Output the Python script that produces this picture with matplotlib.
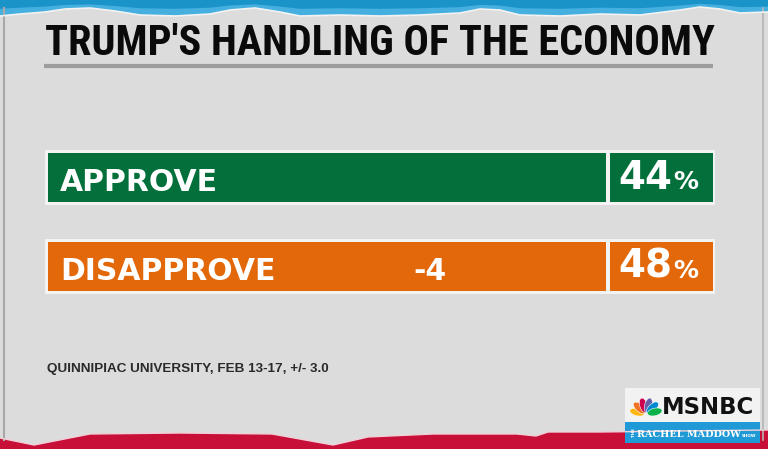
import math
import matplotlib
matplotlib.use("Agg")
import matplotlib.pyplot as plt
from matplotlib import font_manager
from matplotlib.patches import Rectangle, Polygon, Ellipse

# chart content
title = "TRUMP'S HANDLING OF THE ECONOMY"
categories = ["APPROVE", "DISAPPROVE"]
values = [44, 48]
bar_colors = ["#03703c", "#e2680a"]
net_label = "-4"
source = "QUINNIPIAC UNIVERSITY, FEB 13-17, +/- 3.0"

# torn paper edges (decoration)
top_edge = [(0, 16), (20, 14), (45, 12), (65, 9), (90, 8), (115, 11), (140, 15),
            (175, 16), (210, 14), (230, 10), (255, 8), (280, 12), (300, 16),
            (340, 15), (380, 16), (420, 15), (460, 13), (480, 9), (500, 10),
            (520, 15), (560, 16), (600, 14), (640, 15), (680, 10), (700, 7),
            (720, 9), (740, 13), (768, 12)]
bottom_edge = [(0, 438), (34, 445), (90, 434), (180, 433), (272, 434),
               (333, 445), (368, 437), (433, 434), (517, 434), (536, 436),
               (548, 432), (600, 432), (680, 431), (768, 430)]

names = {f.name for f in font_manager.fontManager.ttflist}


def pick(*cands):
    for c in cands:
        if c in names:
            return c
    return "DejaVu Sans"


narrow = pick("Liberation Sans Narrow", "Roboto Condensed", "DejaVu Sans")
arial = pick("Liberation Sans", "DejaVu Sans")

W, H = 768, 449
fig = plt.figure(figsize=(W / 100, H / 100), dpi=100)
fig.patch.set_facecolor("#dcdcdc")
ax = fig.add_axes([0, 0, 1, 1])
ax.set_xlim(0, W)
ax.set_ylim(H, 0)
ax.axis("off")
renderer = fig.canvas.get_renderer()


def fit(t, width_px):
    w = t.get_window_extent(renderer).width
    t.set_fontsize(t.get_fontsize() * width_px / w)


# side borders
ax.plot([4, 4], [8, 440], color="#a8a8a8", lw=1.5)
ax.plot([763, 763], [8, 440], color="#b4b4b4", lw=1.2)

# top blue torn strip
ax.add_patch(Polygon([(0, 0)] + top_edge + [(W, 0)], closed=True,
                     facecolor="#45b0e0", edgecolor="none"))
ax.add_patch(Polygon([(0, 0)] + [(x, y * 0.55) for x, y in top_edge] + [(W, 0)],
                     closed=True, facecolor="#1a93c9", edgecolor="none"))
ax.plot(*zip(*top_edge), color="#f2f2f2", lw=1.2)

# bottom red torn strip
ax.add_patch(Polygon(bottom_edge + [(W, H), (0, H)], closed=True,
                     facecolor="#c70f38", edgecolor="none"))
ax.plot(*zip(*bottom_edge), color="#f0d0d8", lw=1)

# title
t = ax.text(380, 55, title, ha="center", va="baseline", color="#0a0a0a",
            fontsize=32, fontweight="bold", family=narrow)
fit(t, 671)
ax.plot([44, 713], [66, 66], color="#9d9d9d", lw=3, solid_capstyle="butt")

# bars
y_pos = [177, 266]
ax.barh(y_pos, 670, left=45, height=55, color="#f3f3f3")
ax.barh(y_pos, 558, left=48, height=49, color=bar_colors)
ax.barh(y_pos, 103, left=610, height=49, color=bar_colors)

for y, cat, val in zip(y_pos, categories, values):
    ax.text(60, y + 14, cat, ha="left", va="baseline", color="white",
            fontsize=21.5, fontweight="bold", family="DejaVu Sans")
    ax.text(672, y + 12, str(val), ha="right", va="baseline", color="white",
            fontsize=28, fontweight="bold", family="DejaVu Sans")
    ax.text(673, y + 12, "%", ha="left", va="baseline", color="white",
            fontsize=18, fontweight="bold", family="DejaVu Sans")

ax.text(430, y_pos[1] + 14, net_label, ha="center", va="baseline",
        color="white", fontsize=21.5, fontweight="bold", family="DejaVu Sans")

# source
s = ax.text(47, 372, source, ha="left", va="baseline", color="#2a2a2a",
            fontsize=8.5, fontweight="bold", family=arial)
fit(s, 280)

# network logo
ax.add_patch(Rectangle((625, 388), 135, 34, facecolor="#f2f2f2", edgecolor="none"))
ax.add_patch(Rectangle((625, 422), 135, 21, facecolor="#1f9ad6", edgecolor="none"))
feathers = ["#fcb711", "#f37021", "#cc004c", "#6460aa", "#0089d0", "#0db14b"]
for k, c in enumerate(feathers):
    th = 168 - k * 31
    cx = 646 + 9 * math.cos(math.radians(th))
    cy = 414 - 9 * math.sin(math.radians(th))
    ax.add_patch(Ellipse((cx, cy), 15, 7.5, angle=-th, facecolor=c, edgecolor="white", lw=0.4))
m = ax.text(662, 414, "MSNBC", ha="left", va="baseline", color="#111111",
            fontsize=14, fontweight="bold", family="DejaVu Sans")
fit(m, 92)
ax.text(632, 436, "THE", ha="left", va="baseline", color="white", fontsize=3,
        fontweight="bold", rotation=90)
r = ax.text(637, 437, "RACHEL MADDOW", ha="left", va="baseline", color="white",
            fontsize=8, fontweight="bold", family="DejaVu Serif")
fit(r, 104)
ax.text(742, 437, "SHOW", ha="left", va="baseline", color="white", fontsize=3,
        fontweight="bold")

fig.savefig("out.png", dpi=100, facecolor=fig.get_facecolor())
